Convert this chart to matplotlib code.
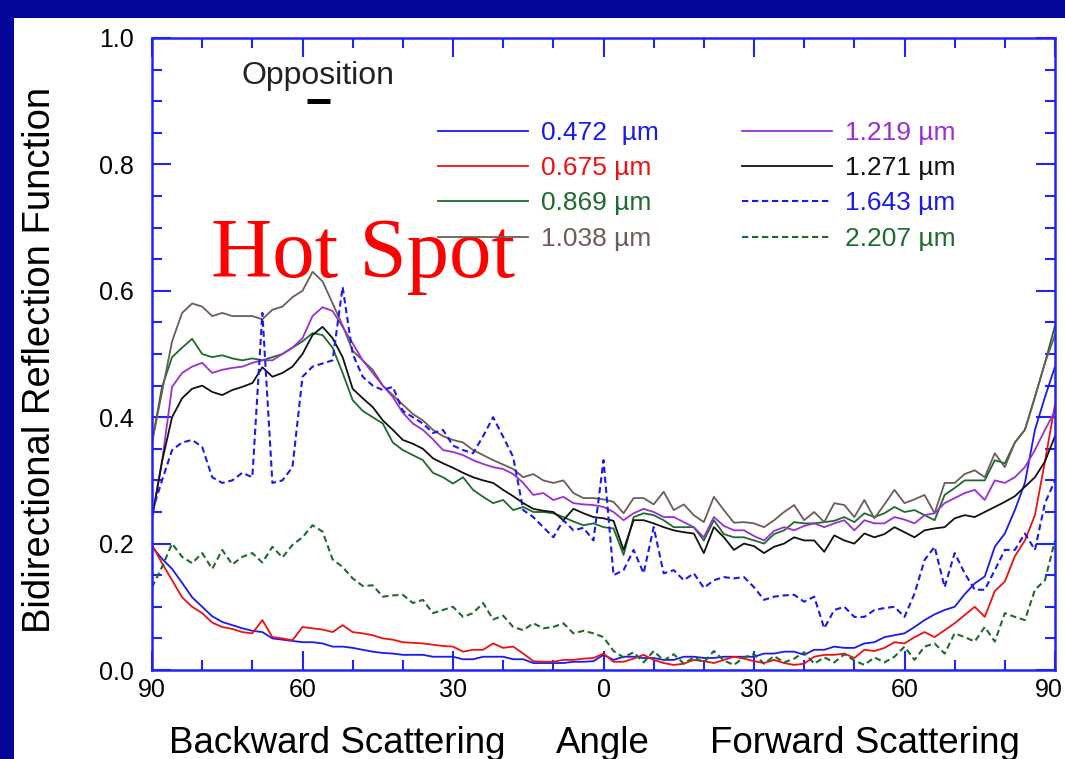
#Bidirectional reflection function vs phase angle, with hot spot
import numpy as np
import matplotlib.pyplot as plt
from matplotlib.patches import Rectangle
from matplotlib.transforms import ScaledTranslation
from matplotlib.ticker import MultipleLocator, FixedLocator, NullFormatter

#angle grid (backward negative, forward positive), 2 deg steps
angle = np.arange(-90, 92, 2)

r_0472 = [0.195, 0.176, 0.160, 0.138, 0.115, 0.100, 0.085, 0.076, 0.071, 0.066,
          0.062, 0.060, 0.050, 0.048, 0.046, 0.044, 0.044, 0.042, 0.037, 0.037,
          0.035, 0.032, 0.029, 0.027, 0.026, 0.024, 0.024, 0.024, 0.021, 0.021,
          0.021, 0.017, 0.017, 0.021, 0.021, 0.021, 0.017, 0.017, 0.011, 0.011,
          0.011, 0.011, 0.013, 0.013, 0.014, 0.024, 0.016, 0.021, 0.021, 0.019,
          0.019, 0.016, 0.016, 0.021, 0.021, 0.019, 0.019, 0.021, 0.021, 0.021,
          0.021, 0.026, 0.026, 0.029, 0.029, 0.024, 0.032, 0.032, 0.037, 0.035,
          0.035, 0.042, 0.044, 0.052, 0.055, 0.058, 0.068, 0.079, 0.088, 0.095,
          0.100, 0.120, 0.137, 0.148, 0.195, 0.216, 0.253, 0.296, 0.380, 0.432,
          0.480]
r_0675 = [0.198, 0.169, 0.142, 0.115, 0.100, 0.090, 0.075, 0.068, 0.065, 0.060,
          0.058, 0.079, 0.052, 0.050, 0.047, 0.068, 0.066, 0.064, 0.060, 0.071,
          0.060, 0.058, 0.055, 0.050, 0.048, 0.044, 0.043, 0.042, 0.040, 0.038,
          0.037, 0.029, 0.032, 0.032, 0.042, 0.035, 0.037, 0.026, 0.014, 0.013,
          0.013, 0.016, 0.016, 0.018, 0.019, 0.026, 0.013, 0.013, 0.018, 0.024,
          0.016, 0.011, 0.008, 0.010, 0.016, 0.014, 0.011, 0.016, 0.021, 0.018,
          0.014, 0.011, 0.016, 0.011, 0.008, 0.010, 0.021, 0.024, 0.024, 0.026,
          0.019, 0.032, 0.030, 0.035, 0.044, 0.042, 0.052, 0.060, 0.052, 0.063,
          0.074, 0.087, 0.100, 0.084, 0.125, 0.140, 0.180, 0.205, 0.245, 0.330,
          0.420]
r_0869 = [0.360, 0.448, 0.495, 0.510, 0.524, 0.500, 0.495, 0.498, 0.493, 0.490,
          0.493, 0.490, 0.495, 0.500, 0.510, 0.520, 0.533, 0.530, 0.510, 0.470,
          0.427, 0.410, 0.400, 0.390, 0.360, 0.348, 0.340, 0.332, 0.312, 0.305,
          0.295, 0.305, 0.285, 0.274, 0.264, 0.269, 0.253, 0.258, 0.250, 0.250,
          0.248, 0.242, 0.235, 0.229, 0.232, 0.226, 0.224, 0.182, 0.242, 0.248,
          0.245, 0.237, 0.226, 0.226, 0.226, 0.205, 0.237, 0.215, 0.210, 0.210,
          0.205, 0.200, 0.215, 0.221, 0.234, 0.232, 0.232, 0.234, 0.236, 0.242,
          0.234, 0.248, 0.242, 0.248, 0.258, 0.250, 0.253, 0.245, 0.237, 0.277,
          0.288, 0.300, 0.300, 0.300, 0.332, 0.327, 0.360, 0.380, 0.432, 0.486,
          0.545]
r_1038 = [0.360, 0.440, 0.520, 0.565, 0.580, 0.575, 0.560, 0.565, 0.560, 0.560,
          0.560, 0.555, 0.570, 0.575, 0.590, 0.600, 0.630, 0.615, 0.580, 0.545,
          0.505, 0.490, 0.475, 0.450, 0.435, 0.420, 0.405, 0.395, 0.380, 0.370,
          0.364, 0.360, 0.348, 0.340, 0.332, 0.325, 0.318, 0.305, 0.310, 0.300,
          0.296, 0.300, 0.280, 0.272, 0.272, 0.270, 0.266, 0.248, 0.272, 0.272,
          0.262, 0.282, 0.253, 0.262, 0.245, 0.234, 0.274, 0.253, 0.233, 0.234,
          0.232, 0.226, 0.237, 0.250, 0.261, 0.237, 0.250, 0.234, 0.264, 0.261,
          0.242, 0.269, 0.240, 0.262, 0.285, 0.264, 0.270, 0.277, 0.248, 0.296,
          0.296, 0.310, 0.316, 0.305, 0.343, 0.321, 0.360, 0.380, 0.432, 0.486,
          0.530]
r_1219 = [0.240, 0.330, 0.448, 0.470, 0.480, 0.486, 0.470, 0.475, 0.478, 0.480,
          0.486, 0.490, 0.490, 0.500, 0.510, 0.525, 0.560, 0.574, 0.568, 0.543,
          0.517, 0.490, 0.470, 0.450, 0.432, 0.407, 0.390, 0.380, 0.365, 0.348,
          0.345, 0.340, 0.332, 0.326, 0.321, 0.318, 0.310, 0.296, 0.277, 0.280,
          0.269, 0.274, 0.264, 0.262, 0.261, 0.258, 0.250, 0.237, 0.248, 0.255,
          0.250, 0.242, 0.242, 0.234, 0.226, 0.210, 0.242, 0.228, 0.221, 0.221,
          0.212, 0.205, 0.220, 0.226, 0.221, 0.228, 0.232, 0.226, 0.232, 0.237,
          0.221, 0.237, 0.232, 0.232, 0.242, 0.238, 0.232, 0.245, 0.248, 0.264,
          0.272, 0.280, 0.285, 0.269, 0.300, 0.296, 0.305, 0.321, 0.348, 0.380,
          0.410]
r_1271 = [0.240, 0.330, 0.400, 0.430, 0.445, 0.450, 0.440, 0.435, 0.443, 0.448,
          0.454, 0.479, 0.464, 0.470, 0.480, 0.500, 0.530, 0.543, 0.525, 0.495,
          0.445, 0.430, 0.416, 0.395, 0.380, 0.364, 0.358, 0.350, 0.335, 0.327,
          0.320, 0.312, 0.305, 0.300, 0.296, 0.285, 0.275, 0.264, 0.255, 0.252,
          0.250, 0.237, 0.255, 0.248, 0.242, 0.240, 0.236, 0.190, 0.237, 0.237,
          0.232, 0.226, 0.221, 0.218, 0.216, 0.185, 0.226, 0.210, 0.190, 0.200,
          0.196, 0.185, 0.195, 0.200, 0.210, 0.205, 0.205, 0.187, 0.213, 0.205,
          0.200, 0.216, 0.210, 0.215, 0.226, 0.218, 0.210, 0.221, 0.224, 0.226,
          0.240, 0.245, 0.242, 0.250, 0.258, 0.266, 0.275, 0.290, 0.305, 0.330,
          0.370]
r_1643 = [0.250, 0.300, 0.348, 0.360, 0.364, 0.353, 0.305, 0.296, 0.300, 0.312,
          0.305, 0.565, 0.296, 0.300, 0.321, 0.464, 0.480, 0.485, 0.490, 0.606,
          0.500, 0.464, 0.450, 0.443, 0.448, 0.410, 0.400, 0.390, 0.375, 0.380,
          0.355, 0.348, 0.343, 0.370, 0.400, 0.369, 0.337, 0.253, 0.242, 0.226,
          0.210, 0.237, 0.221, 0.225, 0.205, 0.332, 0.150, 0.158, 0.190, 0.153,
          0.226, 0.153, 0.158, 0.142, 0.153, 0.130, 0.142, 0.147, 0.145, 0.147,
          0.131, 0.111, 0.116, 0.118, 0.119, 0.108, 0.116, 0.066, 0.095, 0.100,
          0.084, 0.084, 0.095, 0.098, 0.100, 0.084, 0.121, 0.174, 0.195, 0.131,
          0.185, 0.153, 0.127, 0.127, 0.158, 0.190, 0.190, 0.216, 0.190, 0.264,
          0.300]
r_2207 = [0.131, 0.163, 0.200, 0.179, 0.169, 0.185, 0.160, 0.190, 0.167, 0.179,
          0.185, 0.170, 0.195, 0.178, 0.198, 0.210, 0.229, 0.219, 0.175, 0.163,
          0.145, 0.133, 0.134, 0.116, 0.118, 0.119, 0.106, 0.111, 0.090, 0.095,
          0.100, 0.084, 0.090, 0.106, 0.080, 0.086, 0.068, 0.063, 0.074, 0.066,
          0.068, 0.074, 0.058, 0.062, 0.058, 0.052, 0.030, 0.020, 0.028, 0.012,
          0.030, 0.015, 0.025, 0.010, 0.020, 0.012, 0.030, 0.015, 0.008, 0.020,
          0.025, 0.010, 0.022, 0.012, 0.018, 0.028, 0.010, 0.020, 0.012, 0.025,
          0.015, 0.008, 0.020, 0.012, 0.021, 0.037, 0.016, 0.037, 0.042, 0.026,
          0.058, 0.052, 0.045, 0.068, 0.045, 0.090, 0.084, 0.079, 0.127, 0.142,
          0.205]

labels = ['0.472  \u00b5m', '0.675 \u00b5m', '0.869 \u00b5m', '1.038 \u00b5m',
          '1.219 \u00b5m', '1.271 \u00b5m', '1.643 \u00b5m', '2.207 \u00b5m']
xtick_vals = [-90, -60, -30, 0, 30, 60, 90]
xtick_labels = ['90', '60', '30', '0', '30', '60', '90']

#opposition marker and hot spot label anchor
opp_range = [-59.2, -54.6]
opp_level = 0.901

blue = '#1a1aee'
red = '#ee1111'
green = '#1d6b2d'
brown = '#6e5c57'
purple = '#9a2fd6'
black = '#111111'
axblue = '#2222ff'

plt.rcParams['font.family'] = ['Liberation Sans', 'DejaVu Sans']

fig = plt.figure(figsize=(10.65, 7.59), dpi=100)
fig.patch.set_facecolor('#06069a')
#white slide panel behind the chart
fig.patches.append(Rectangle((14/1065, 0), 1, 1 - 18/759, transform=fig.transFigure,
                             facecolor='white', edgecolor='none', zorder=-10))

ax = fig.add_axes([152/1065, 1 - 670/759, 903/1065, 632/759])
ax.set_zorder(5)
ax.set_facecolor('white')

lw = 1.3
ax.plot(angle, r_0472, color=blue, lw=lw, label=labels[0])
ax.plot(angle, r_0675, color=red, lw=lw, label=labels[1])
ax.plot(angle, r_0869, color=green, lw=lw, label=labels[2])
ax.plot(angle, r_1038, color=brown, lw=lw, label=labels[3])
ax.plot(angle, r_1219, color=purple, lw=lw, label=labels[4])
ax.plot(angle, r_1271, color=black, lw=lw, label=labels[5])
ax.plot(angle, r_1643, color=blue, lw=1.5, ls=(0, (3, 1.8)), label=labels[6])
ax.plot(angle, r_2207, color=green, lw=1.5, ls=(0, (3, 1.8)), label=labels[7])

#opposition bar
ax.plot(opp_range, [opp_level, opp_level], color='black', lw=3.6, solid_capstyle='butt')
ax.text(np.mean(opp_range), 0.927, 'Opposition', ha='center', va='baseline',
        fontsize=23, color='#222222')
ax.text(-78.2, 0.622, 'Hot Spot', ha='left', va='baseline', fontsize=61,
        color='#ff0000', family=['Liberation Serif', 'DejaVu Serif'])

ax.set_xlim(-90, 90)
ax.set_ylim(0, 1)
ax.xaxis.set_major_locator(FixedLocator(xtick_vals))
ax.set_xticklabels(xtick_labels)
ax.xaxis.set_minor_locator(MultipleLocator(10))
ax.yaxis.set_major_locator(MultipleLocator(0.2))
ax.yaxis.set_minor_locator(MultipleLocator(0.05))
ax.yaxis.set_major_formatter(plt.FuncFormatter(lambda v, p: '%.1f' % v))
ax.xaxis.set_minor_formatter(NullFormatter())

ax.tick_params(which='both', direction='in', top=True, right=True, color=axblue,
               width=1.5, labelsize=18, labelcolor='black')
ax.tick_params(which='major', length=13.5)
ax.tick_params(which='minor', length=7.5)
ax.tick_params(axis='y', pad=13)
ax.tick_params(axis='x', pad=6)
for s in ax.spines.values():
    s.set_color(axblue)
    s.set_linewidth(1.8)

#nudge the last x label so it stays inside the slide
last = ax.get_xticklabels()[-1]
last.set_transform(last.get_transform() + ScaledTranslation(-0.06, 0, fig.dpi_scale_trans))

leg = ax.legend(ncol=2, loc='upper left', bbox_to_anchor=(0.3167, 0.869),
                frameon=False, fontsize=19, handlelength=3.4, handletextpad=0.5,
                columnspacing=3.17, labelspacing=0.43, borderpad=0, borderaxespad=0,
                labelcolor='linecolor')

#axis titles
fig.text(40/1065, 1 - 360/759, 'Bidirectional Reflection Function', rotation=90,
         ha='center', va='center', fontsize=27.5, color='black')
fig.text(337/1065, 1 - 753/759, 'Backward Scattering', ha='center', va='baseline',
         fontsize=26.5)
fig.text(603/1065, 1 - 753/759, 'Angle', ha='center', va='baseline', fontsize=26.5)
fig.text(865/1065, 1 - 753/759, 'Forward Scattering', ha='center', va='baseline',
         fontsize=26.5)

plt.savefig('out.png', dpi=100, facecolor=fig.get_facecolor())
